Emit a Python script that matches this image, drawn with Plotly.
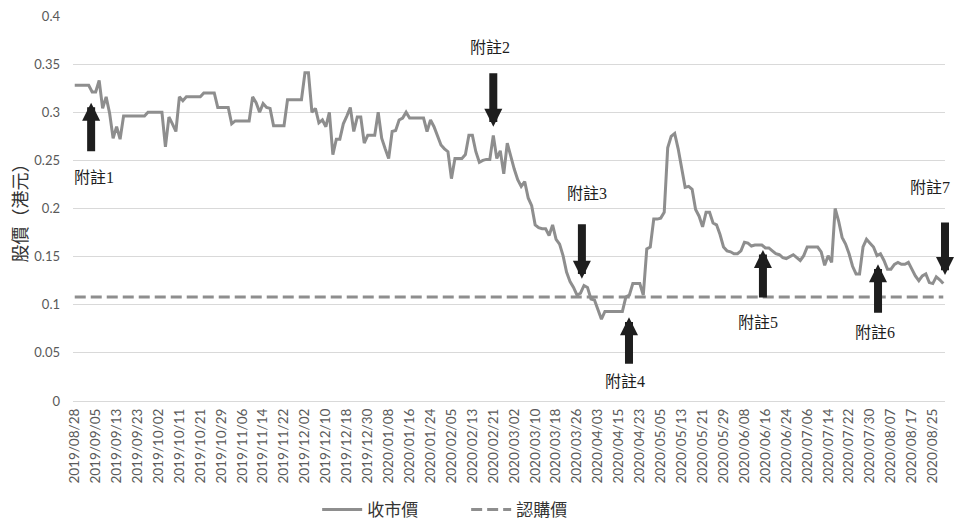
import pandas as pd
import plotly.graph_objects as go

# Hong Kong exchange holidays falling on weekdays in the period
holidays = [
    "2019-10-01", "2019-10-07", "2019-12-25", "2019-12-26",
    "2020-01-01", "2020-01-27", "2020-01-28",
    "2020-04-10", "2020-04-13", "2020-04-30", "2020-05-01",
    "2020-06-25", "2020-07-01",
]
days = pd.bdate_range("2019-08-28", "2020-08-28")
days = days[~days.isin(pd.to_datetime(holidays))]
dates = [d.strftime("%Y/%m/%d") for d in days]

# daily closing price (HK$)
close = [
    0.328, 0.328, 0.328, 0.328, 0.328, 0.321, 0.321, 0.333, 0.304, 0.316,
    0.299, 0.273, 0.285, 0.272, 0.296, 0.296, 0.296, 0.296, 0.296, 0.296,
    0.296, 0.300, 0.300, 0.300, 0.300, 0.300, 0.264, 0.295, 0.288, 0.280,
    0.316, 0.312, 0.316, 0.316, 0.316, 0.316, 0.316, 0.320, 0.320, 0.320,
    0.320, 0.305, 0.305, 0.305, 0.305, 0.288, 0.291, 0.291, 0.291, 0.291,
    0.291, 0.316, 0.310, 0.300, 0.309, 0.305, 0.304, 0.286, 0.286, 0.286,
    0.286, 0.313, 0.313, 0.313, 0.313, 0.313, 0.341, 0.341, 0.300, 0.304,
    0.289, 0.292, 0.285, 0.300, 0.256, 0.272, 0.272, 0.288, 0.296, 0.305,
    0.280, 0.295, 0.295, 0.268, 0.276, 0.276, 0.276, 0.300, 0.273, 0.262,
    0.252, 0.280, 0.281, 0.292, 0.294, 0.300, 0.294, 0.294, 0.294, 0.294,
    0.294, 0.280, 0.292, 0.285, 0.276, 0.266, 0.262, 0.259, 0.231, 0.252,
    0.252, 0.252, 0.256, 0.276, 0.276, 0.259, 0.248, 0.250, 0.251, 0.251,
    0.276, 0.252, 0.260, 0.236, 0.268, 0.254, 0.241, 0.230, 0.223, 0.228,
    0.211, 0.203, 0.183, 0.180, 0.179, 0.179, 0.172, 0.183, 0.168, 0.163,
    0.151, 0.134, 0.124, 0.118, 0.110, 0.112, 0.120, 0.118, 0.106, 0.105,
    0.094, 0.085, 0.093, 0.093, 0.093, 0.093, 0.093, 0.093, 0.108, 0.110,
    0.122, 0.122, 0.122, 0.110, 0.158, 0.160, 0.189, 0.189, 0.190, 0.196,
    0.263, 0.275, 0.278, 0.262, 0.240, 0.222, 0.223, 0.220, 0.199, 0.192,
    0.181, 0.196, 0.196, 0.185, 0.183, 0.173, 0.160, 0.156, 0.155, 0.153,
    0.153, 0.156, 0.165, 0.164, 0.161, 0.162, 0.162, 0.162, 0.159, 0.159,
    0.156, 0.153, 0.152, 0.149, 0.148, 0.150, 0.152, 0.149, 0.146, 0.151,
    0.160, 0.160, 0.160, 0.160, 0.155, 0.141, 0.151, 0.144, 0.200, 0.187,
    0.170, 0.163, 0.153, 0.140, 0.132, 0.132, 0.160, 0.168, 0.164, 0.160,
    0.151, 0.153, 0.146, 0.137, 0.137, 0.142, 0.144, 0.142, 0.142, 0.144,
    0.137, 0.130, 0.125, 0.130, 0.132, 0.123, 0.122, 0.129, 0.126, 0.122,
]
strike_price = 0.108

tick_dates = dates[::6]

# note labels: (text, arrow x index, arrow tip value, tail offset px, label x index, label value)
notes = [
    ("附註1", 4.7, 0.310, 50, 5.5, 0.232),
    ("附註2", 120.0, 0.285, -55, 119.1, 0.367),
    ("附註3", 145.4, 0.127, -56, 147.0, 0.216),
    ("附註4", 158.9, 0.087, 48, 157.8, 0.020),
    ("附註5", 197.3, 0.157, 49, 195.9, 0.082),
    ("附註6", 230.3, 0.142, 50, 229.4, 0.071),
    ("附註7", 249.5, 0.131, -54, 245.2, 0.222),
]

GREY = "#8e8e8e"
TXT = "#595959"
INK = "#1e1e1e"
NOTE_FONT = "Liberation Serif, Noto Sans CJK TC, serif"
CJK = "Noto Sans CJK TC, sans-serif"

fig = go.Figure()
fig.add_trace(go.Scatter(
    x=dates, y=close, mode="lines", name="收市價",
    line=dict(color=GREY, width=3),
))
fig.add_trace(go.Scatter(
    x=dates, y=[strike_price] * len(dates), mode="lines", name="認購價",
    line=dict(color=GREY, width=3, dash="11px,5px"),
))

annotations = []
for text, ax_i, tip, off, lx, ly in notes:
    annotations.append(dict(
        x=ax_i, y=tip, xref="x", yref="y", text="",
        showarrow=True, arrowhead=2, arrowsize=0.45, arrowwidth=8,
        arrowcolor=INK, ax=0, ay=off,
    ))
    annotations.append(dict(
        x=lx, y=ly, xref="x", yref="y", text=text, showarrow=False,
        font=dict(family=NOTE_FONT, size=16, color=INK),
        xanchor="center", yanchor="middle",
    ))
annotations.append(dict(
    x=-0.063, y=0.5, xref="paper", yref="paper", text="股價（港元）",
    textangle=-90, showarrow=False, xanchor="center", yanchor="middle",
    font=dict(family=CJK, size=18, color="#333333"),
))

fig.update_layout(
    width=958, height=523,
    margin=dict(l=73, r=13, t=16, b=122, autoexpand=False),
    paper_bgcolor="white", plot_bgcolor="white",
    font=dict(family="Lato, sans-serif", color=TXT),
    showlegend=True,
    legend=dict(
        orientation="h", x=0.28, xanchor="left", y=-0.283, yanchor="middle",
        font=dict(family=CJK, size=17, color="#333333"),
        entrywidth=94, itemwidth=40,
    ),
    annotations=annotations,
    xaxis=dict(
        type="category", categoryorder="array", categoryarray=dates,
        range=[-0.5, len(dates) - 0.5], automargin=False,
        tickmode="array", tickvals=tick_dates, ticktext=tick_dates,
        tickangle=-90, tickfont=dict(size=13.5, color=TXT),
        showgrid=False, showline=False, zeroline=False, ticks="",
        ticklabelstandoff=4,
    ),
    yaxis=dict(
        range=[0, 0.4], dtick=0.05, tick0=0, automargin=False,
        gridcolor="#d9d9d9", gridwidth=1,
        zeroline=True, zerolinecolor="#d9d9d9", zerolinewidth=1,
        showline=False, ticks="", tickfont=dict(size=13, color=TXT),
        ticklabelstandoff=12,
    ),
)

fig.write_html("out.html")
